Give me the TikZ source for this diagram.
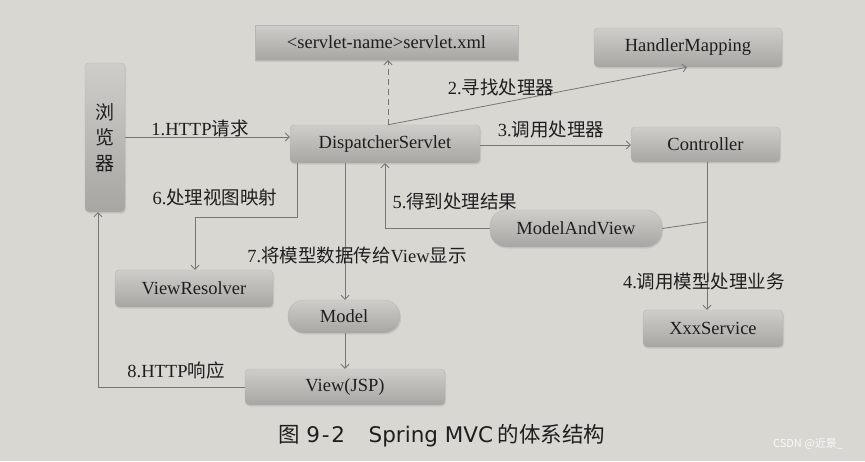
\documentclass[tikz,border=0pt]{standalone}
\usepackage{fontspec}
\setmainfont{Liberation Serif}
\newfontfamily\cjk{Noto Sans CJK SC}
\newfontfamily\capsans{DejaVu Sans}
\usetikzlibrary{arrows.meta,shadows}
\definecolor{paper}{RGB}{216,215,210}
\definecolor{ink}{RGB}{30,30,30}
\definecolor{wire}{RGB}{118,118,116}
\definecolor{boxtop}{RGB}{206,205,201}
\definecolor{boxbot}{RGB}{168,166,162}
\begin{document}
\begin{tikzpicture}[x=1pt,y=-1pt,
  box/.style={draw=boxbot!80!black!60, line width=0.4pt, top color=boxtop, bottom color=boxbot,
    rounded corners=4pt, text=ink, inner sep=0pt,
    font=\fontsize{18.5}{22}\selectfont,
    drop shadow={opacity=0.18, shadow xshift=1pt, shadow yshift=-1.5pt}},
  pill/.style={box, rounded corners=16pt},
  sq/.style={box, rounded corners=0pt},
  lbl/.style={text=ink, font=\fontsize{18.5}{22}\selectfont, inner sep=0pt},
  wire/.style={draw=wire, line width=0.8pt},
  arr/.style={wire, -{Straight Barb[length=4pt,width=8pt]}}
]
\fill[paper] (0,0) rectangle (865,461);
\useasboundingbox (0,0) rectangle (865,461);

% nodes
\node[box, minimum width=40pt, minimum height=149pt, align=center,
      font=\cjk\fontsize{19}{25.5}\selectfont] (br) at (105,137.5) {浏\\览\\器};
\node[sq, minimum width=263pt, minimum height=35pt] (xml) at (386.5,42.5) {<servlet-name>servlet.xml};
\node[box, minimum width=188pt, minimum height=39pt] (hm) at (688,47.5) {HandlerMapping};
\node[box, minimum width=190pt, minimum height=38pt] (ds) at (385,144) {DispatcherServlet};
\node[box, minimum width=149pt, minimum height=35pt] (ctrl) at (705.5,144.5) {Controller};
\node[pill, minimum width=172pt, minimum height=37pt] (mav) at (576,228.5) {ModelAndView};
\node[box, minimum width=158pt, minimum height=37pt] (vr) at (194,288.5) {ViewResolver};
\node[pill, minimum width=112pt, minimum height=33pt] (model) at (344,316.5) {Model};
\node[box, minimum width=140pt, minimum height=37pt] (xs) at (713,328.5) {XxxService};
\node[box, minimum width=200pt, minimum height=36pt] (view) at (345,387) {View(JSP)};

% connectors
\draw[arr] (br.east |- 0,137) -- (ds.west |- 0,137);
\draw[arr, dashed, dash pattern=on 6pt off 4pt] (ds.north -| 388,0) -- (xml.south -| 388,0);
\draw[arr] (ds.north -| 388,0) -- (hm.south -| 687,0);
\draw[arr] (ds.east |- 0,145) -- (ctrl.west |- 0,145);
\draw[arr] (ctrl.south -| 707,0) -- (xs.north -| 707,0);
\coordinate (j) at (707,222);
\draw[wire] (j) -- (mav.east);
\draw[arr] (mav.west) -- (mav.west -| 385,0) -- (ds.south -| 385,0);
\draw[arr] (ds.south -| 297,0) -- (297,217) -- (195,217) -- (vr.north -| 195,0);
\draw[arr] (ds.south -| 345,0) -- (model.north -| 345,0);
\draw[arr] (model.south -| 345,0) -- (view.north -| 345,0);
\draw[arr] (view.west) -- (view.west -| 98,0) -- (br.south -| 98,0);

% labels
\node[lbl] (l1) at (200,128) {1.HTTP{\cjk 请求}};
\node[lbl] (l2) at (501,87) {2.{\cjk 寻找处理器}};
\node[lbl] (l3) at (551,130) {3.{\cjk 调用处理器}};
\node[lbl] (l4) at (704,282) {4.{\cjk 调用模型处理业务}};
\node[lbl] (l5) at (455,201) {5.{\cjk 得到处理结果}};
\node[lbl] (l6) at (215,197) {6.{\cjk 处理视图映射}};
\node[lbl] (l7) at (357,255) {7.{\cjk 将模型数据传给}View{\cjk 显示}};
\node[lbl] (l8) at (176,370) {8.HTTP{\cjk 响应}};

% caption and watermark
\node[text=ink, inner sep=0pt, font=\cjk\fontsize{21.5}{24}\selectfont] (cap) at (442,436)
  {图\hspace{0.3em}{\capsans 9\hspace{0.08em}-\hspace{0.08em}2}\hspace{1.1em}{\capsans Spring MVC} 的体系结构};
\node[text=white!88!paper, inner sep=0pt, font=\cjk\fontsize{11}{13}\selectfont] (wm) at (808,444) {CSDN @近景\_};
\end{tikzpicture}
\end{document}
